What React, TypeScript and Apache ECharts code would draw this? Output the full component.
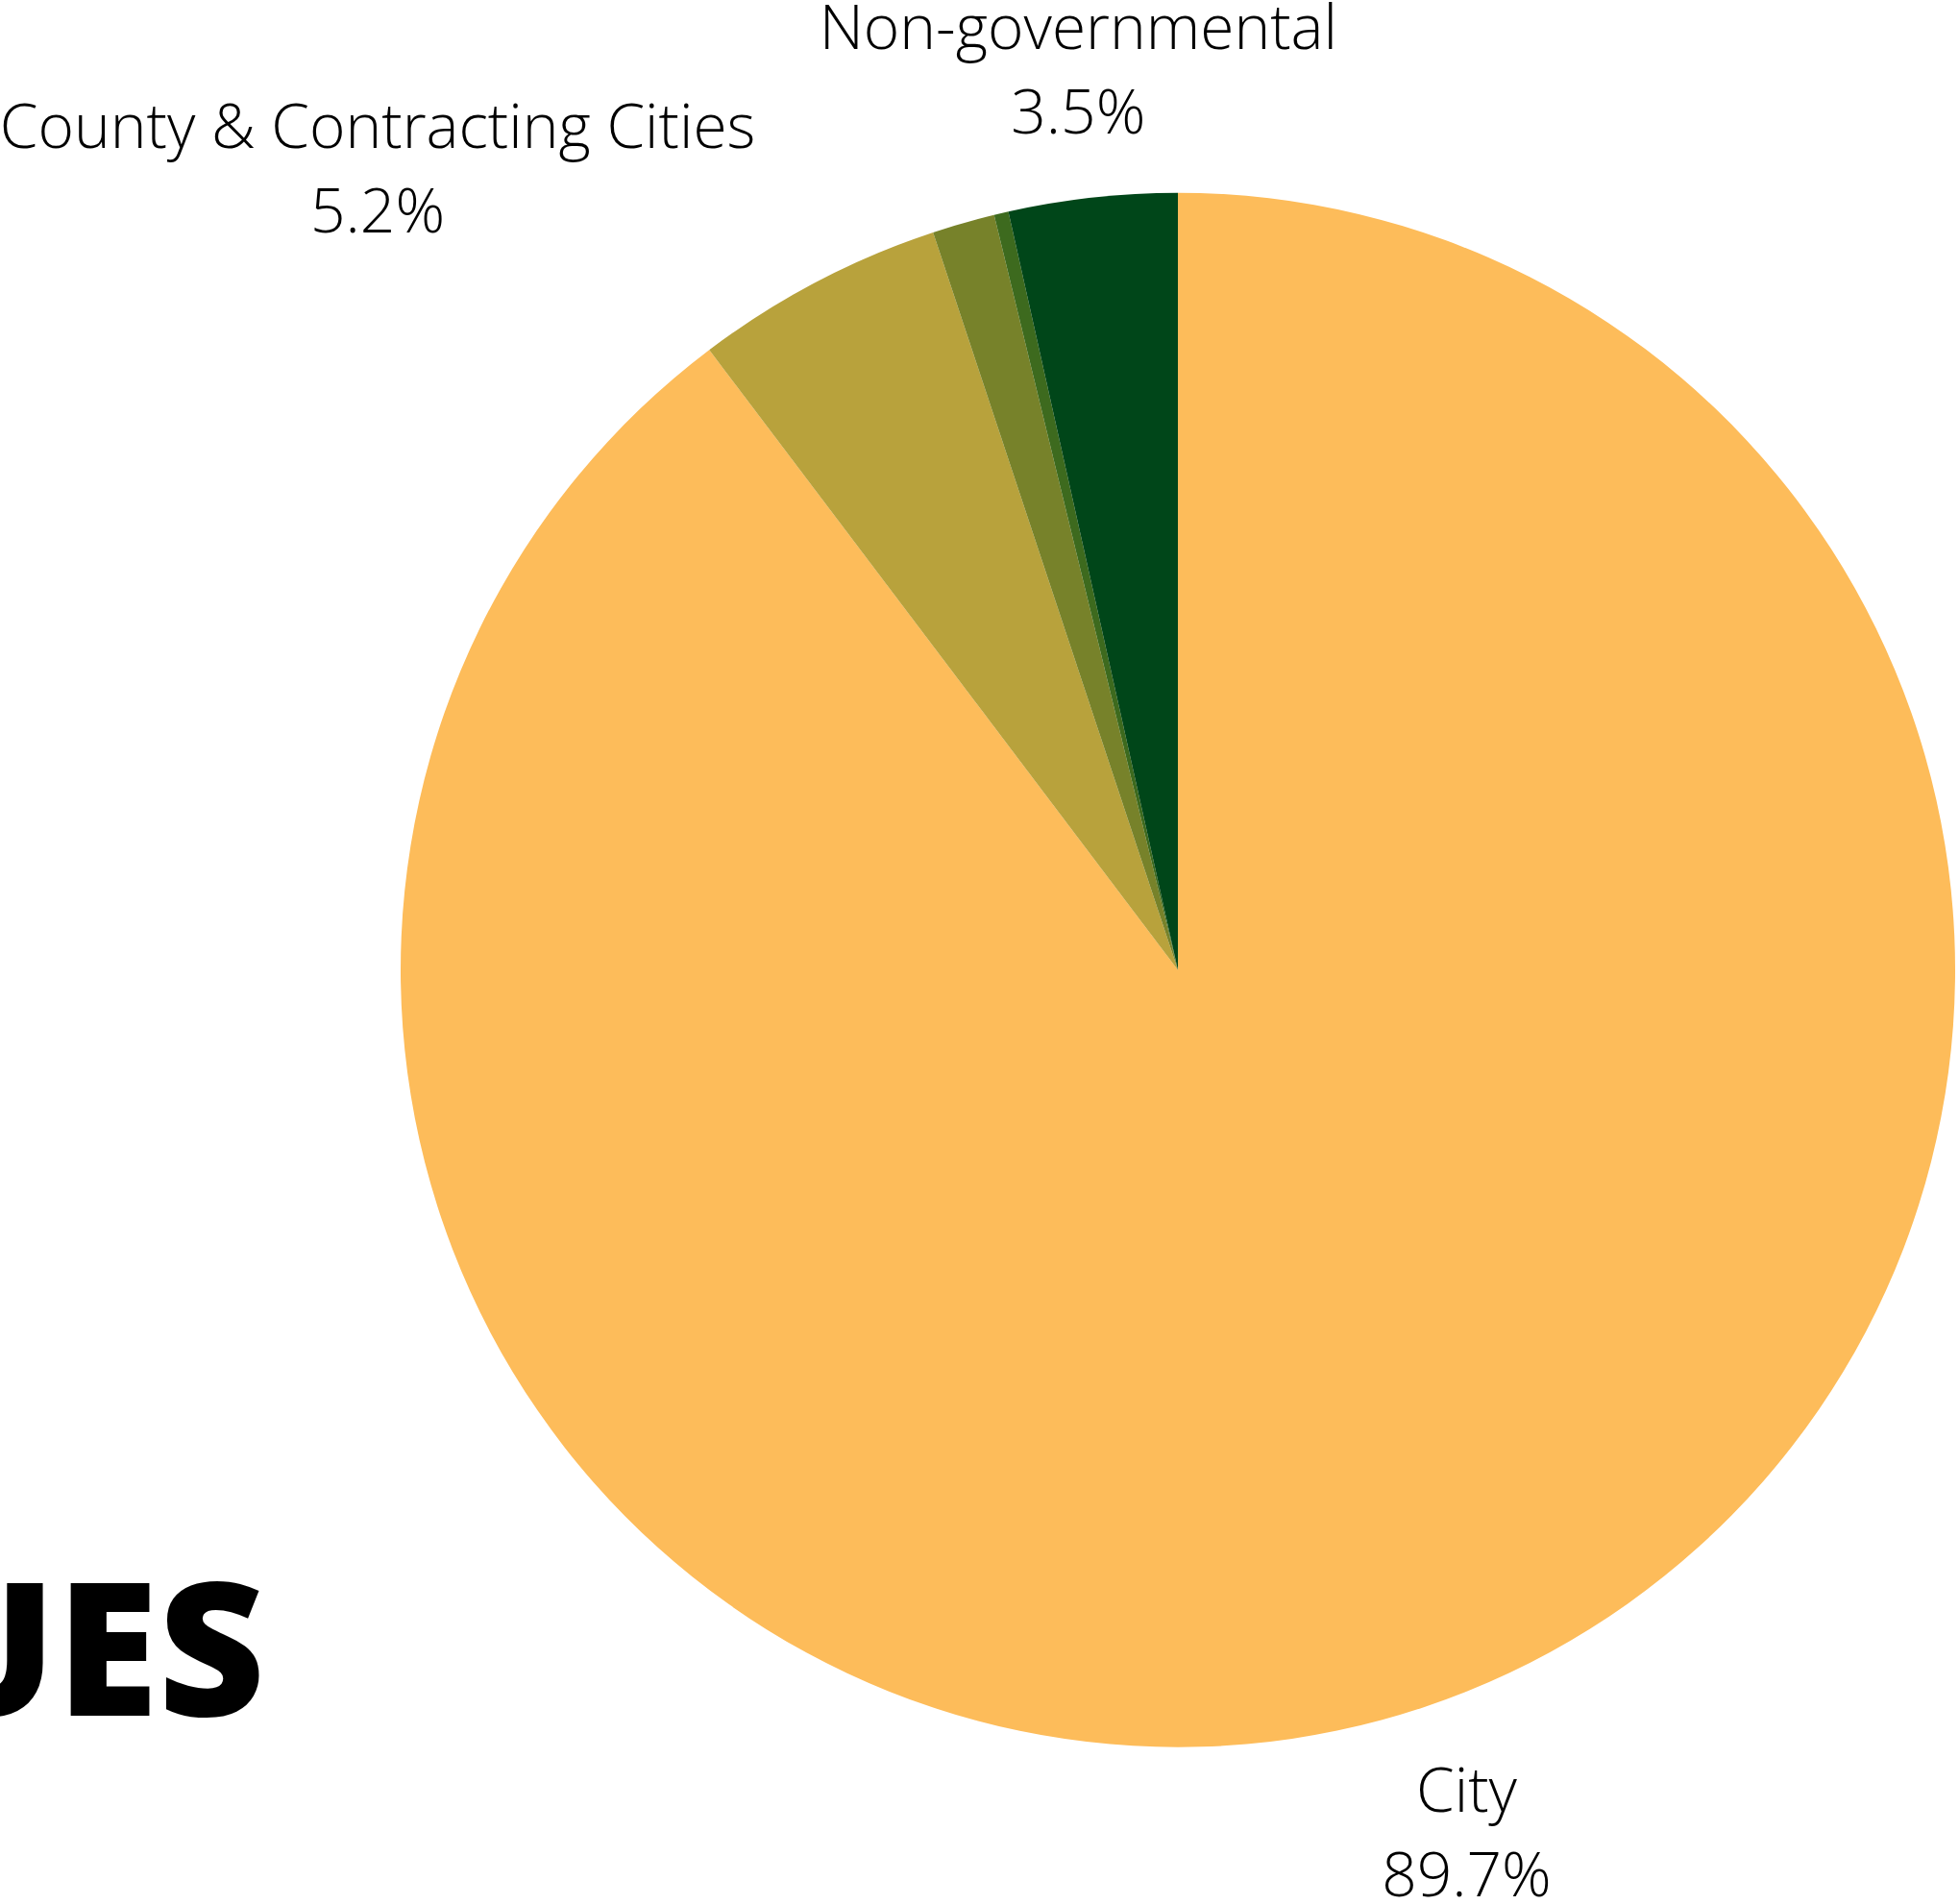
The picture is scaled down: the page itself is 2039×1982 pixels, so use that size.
import React, { useEffect, useRef } from "react";
import * as echarts from "echarts";

const categories = ["City", "County & Contracting Cities", "State", "Federal", "Non-governmental"];
const shares = [89.7, 5.2, 1.3, 0.3, 3.5];
const sliceColors = ["#FDBC5A", "#B8A23C", "#77822A", "#3D6A1E", "#004619"];
const labelled = [true, true, false, false, true];
const labelAnchor = ["center", "right", "center", "center", "center"];
const titleFragment = "UES";

const CX = 1226;
const CY = 1009.7;
const R = 809;
const LABEL_R = 945;

export default function App() {
  const ref = useRef<HTMLDivElement>(null);
  useEffect(() => {
    if (!ref.current) return;
    const chart = echarts.init(ref.current, null, { renderer: "svg" });
    const total = shares.reduce((a, b) => a + b, 0);
    const midAngle = (i: number) => {
      let before = 0;
      for (let k = 0; k < i; k++) before += shares[k];
      return ((before + shares[i] / 2) / total) * Math.PI * 2;
    };
    chart.setOption({
      animation: false,
      backgroundColor: "#ffffff",
      graphic: [
        {
          type: "text",
          x: 276,
          y: 1711,
          style: {
            text: titleFragment,
            fill: "#000000",
            font: "800 193px 'Open Sans'",
            align: "right",
            verticalAlign: "middle",
          },
        },
      ],
      series: [
        {
          type: "pie",
          center: [CX, CY],
          radius: R,
          startAngle: 90,
          clockwise: true,
          avoidLabelOverlap: false,
          emphasis: { disabled: true },
          itemStyle: { borderWidth: 0 },
          label: {
            show: true,
            position: "outside",
            formatter: (p: any) => `${p.name}\n${p.value}%`,
            fontFamily: "'Open Sans'",
            fontWeight: 300,
            fontSize: 64,
            lineHeight: 88,
            color: "#000000",
            align: "center",
          },
          labelLine: { show: false },
          labelLayout: (params: any) => {
            const i = params.dataIndex;
            const a = midAngle(i);
            let x = CX + LABEL_R * Math.sin(a);
            const y = CY - LABEL_R * Math.cos(a);
            const w = params.labelRect ? params.labelRect.width : 0;
            if (labelAnchor[i] === "right") x -= w / 2;
            if (labelAnchor[i] === "left") x += w / 2;
            return { x, y, align: "center", verticalAlign: "middle" };
          },
          data: categories.map((name, i) => ({
            name,
            value: shares[i],
            itemStyle: { color: sliceColors[i] },
            label: { show: labelled[i] },
          })),
        },
      ],
    });
    return () => chart.dispose();
  }, []);
  return (
    <div
      ref={ref}
      style={{ position: "absolute", left: 0, top: 0, width: 2039, height: 1982 }}
    />
  );
}
